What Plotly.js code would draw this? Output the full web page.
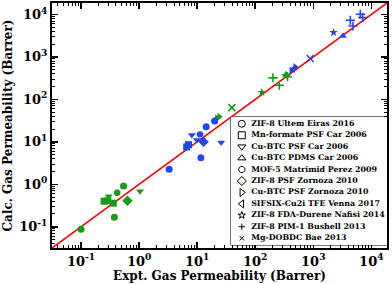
<!DOCTYPE html>
<html><head><meta charset="utf-8">
<script src="https://cdn.plot.ly/plotly-3.0.1.min.js"></script>
<style>html,body{margin:0;padding:0;background:#fff}#c{width:392px;height:284px}</style>
</head><body><div id="c"></div>
<script>
// Legend entries (dataset names) and their marker symbols
const datasets = ['ZIF-8 Ultem Eiras 2016','Mn-formate PSF Car 2006','Cu-BTC PSF Car 2006','Cu-BTC PDMS Car 2006','MOF-5 Matrimid Perez 2009','ZIF-8 PSF Zornoza 2010','Cu-BTC PSF Zornoza 2010','SIFSIX-Cu2i TFE Venna 2017','ZIF-8 FDA-Durene Nafisi 2014','ZIF-8 PIM-1 Bushell 2013','Mg-DOBDC Bae 2013'];
const symbols = ['circle','square','triangle-down','triangle-up','octagon','diamond','triangle-right','triangle-left','star','cross-thin','x-thin'];

// Green points: experimental, calculated, dataset index
const greenX = [0.10, 0.375, 0.42, 0.54, 0.25, 0.29, 0.36, 0.30, 1.04, 0.63, 22, 24, 20, 21, 39.6, 130, 330, 202, 260, 360, 345];
const greenY = [0.087, 0.167, 0.63, 0.91, 0.40, 0.41, 0.36, 0.52, 0.69, 0.41, 36, 39, 32, 34, 64, 146, 360, 321, 216, 340, 385];
const greenSet = [0, 0, 4, 0, 1, 1, 1, 2, 2, 5, 6, 6, 7, 7, 10, 8, 8, 9, 9, 9, 3];

// Blue points
const blueX = [3.3, 11.6, 11.2, 14.3, 20, 6.6, 7.1, 8.1, 9.9, 25.9, 12.9, 420, 450, 490, 887, 2240, 3240, 4350, 4830, 6460, 7080];
const blueY = [2.25, 4.2, 15, 22.6, 31, 7.6, 8.6, 14.4, 11, 9.7, 10, 480, 520, 580, 920, 3760, 3090, 7330, 5370, 10100, 8500];
const blueSet = [0, 0, 4, 0, 0, 1, 1, 2, 2, 2, 5, 6, 7, 6, 10, 8, 3, 9, 9, 9, 9];

// Parity line (calc = expt) and axis ticks
const parity = [0.03, 20000];
const tickVals = [0.1, 1, 10, 100, 1000, 10000];
const tickText = ['10<sup>-1</sup>','10<sup>0</sup>','10<sup>1</sup>','10<sup>2</sup>','10<sup>3</sup>','10<sup>4</sup>'];

const GREEN = '#1a9a1a', BLUE = '#2347f5';
const minorVals = [];
for (let e = -2; e <= 4; e++) for (let d = 2; d <= 9; d++) minorVals.push(d * Math.pow(10, e));

function sizeFor(s) {
  if (s === 'star') return 6.5;
  if (s === 'cross-thin') return 6.5;
  if (s === 'x-thin') return 7;
  if (s === 'diamond') return 8;
  return 7;
}
function legendSize(s) {
  if (s === 'star') return 5.5;
  if (s === 'cross-thin') return 4.5;
  if (s === 'x-thin') return 4.5;
  if (s === 'octagon') return 6.5;
  return 7;
}
function group(xs, ys, set, color) {
  const sy = set.map(i => symbols[i]);
  return {
    type: 'scatter', mode: 'markers', x: xs, y: ys, showlegend: false, hoverinfo: 'skip',
    marker: { symbol: sy, size: sy.map(sizeFor), color: color, opacity: 1,
      line: { color: color, width: sy.map(s => (s.indexOf('thin') >= 0 ? 1.6 : 0)) } }
  };
}

const rows = datasets.map((_, i) => i);
const font = { family: 'DejaVu Serif', weight: 'bold', color: '#000' };

const traces = [
  { type: 'scatter', mode: 'lines', x: parity, y: parity, line: { color: '#ff0000', width: 1.6 }, showlegend: false, hoverinfo: 'skip' },
  group(greenX, greenY, greenSet, GREEN),
  group(blueX, blueY, blueSet, BLUE),
  { type: 'scatter', mode: 'markers', xaxis: 'x2', yaxis: 'y2', x: rows.map(() => 0.07), y: rows, showlegend: false, hoverinfo: 'skip',
    marker: { symbol: symbols.map(s => s.indexOf('thin') >= 0 ? s : s + '-open'), size: symbols.map(legendSize),
      color: '#000', opacity: 1, line: { color: '#000', width: 1 } } },
  { type: 'scatter', mode: 'text', xaxis: 'x2', yaxis: 'y2', x: rows.map(() => 0.13), y: rows, text: datasets, textposition: 'middle right',
    textfont: Object.assign({}, font, { size: 7.9 }), showlegend: false, hoverinfo: 'skip' }
];

const axisCommon = {
  type: 'log', range: [-1.5, 4.27], showline: true, linecolor: '#000', linewidth: 2, mirror: 'ticks',
  ticks: 'inside', ticklen: 6, tickwidth: 1.5, tickcolor: '#000', tickmode: 'array', tickvals: tickVals, ticktext: tickText,
  showgrid: false, zeroline: false, tickfont: Object.assign({}, font, { size: 13 }),
  minor: { ticks: 'inside', ticklen: 3, tickwidth: 1, tickcolor: '#000', tickmode: 'array', tickvals: minorVals, showgrid: false }
};

const layout = {
  width: 392, height: 284, margin: { l: 52, r: 5, t: 3, b: 36 },
  paper_bgcolor: '#fff', plot_bgcolor: '#fff', showlegend: false, font: font,
  xaxis: Object.assign({}, axisCommon, { title: { text: 'Expt. Gas Permeability (Barrer)', font: Object.assign({}, font, { size: 12 }), standoff: 2 } }),
  yaxis: Object.assign({}, axisCommon, { title: { text: 'Calc. Gas Permeability (Barrer)', font: Object.assign({}, font, { size: 12 }), standoff: 4 } }),
  xaxis2: { domain: [0.534, 1], range: [0, 1], visible: false, anchor: 'y2', fixedrange: true },
  yaxis2: { domain: [0.012, 0.535], range: [10.6, -0.6], visible: false, anchor: 'x2', fixedrange: true },
  shapes: [{ type: 'rect', xref: 'paper', yref: 'paper', x0: 0.534, x1: 1, y0: 0.012, y1: 0.535, line: { color: '#000', width: 1 }, fillcolor: '#fff', layer: 'below' }]
};

Plotly.newPlot('c', traces, layout, { staticPlot: true, displayModeBar: false });
</script></body></html>
